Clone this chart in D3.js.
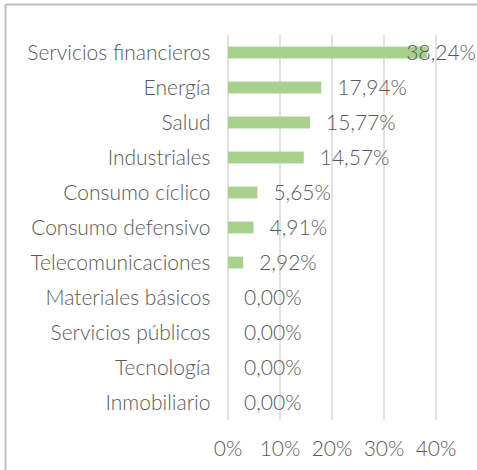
<!DOCTYPE html>
<html>
<head>
<meta charset="utf-8">
<script src="https://cdn.jsdelivr.net/npm/d3@7"></script>
<style>
html,body{margin:0;padding:0;background:#fff;overflow:hidden}
svg{display:block}
text{font-family:"Lato","Open Sans",sans-serif;font-weight:300;fill:#595959}
</style>
</head>
<body>
<svg id="chart" width="477" height="470"></svg>
<script>
// sectores y pesos (%)
let sectors=["Servicios financieros","Energía","Salud","Industriales","Consumo cíclico","Consumo defensivo","Telecomunicaciones","Materiales básicos","Servicios públicos","Tecnología","Inmobiliario"]
let weights=[38.24,17.94,15.77,14.57,5.65,4.91,2.92,0,0,0,0]
let ticks=[0,10,20,30,40]

let svg=d3.select("#chart")
let W=477,H=470
let fs=21, capOff=7.6

let x=d3.scaleLinear().domain([0,40]).range([228,436])
let y=d3.scaleBand().domain(sectors).range([35,420]).paddingInner(0.66).paddingOuter(0.33)

// marco
svg.append("line").attr("x1",5.5).attr("x2",W).attr("y1",4.5).attr("y2",4.5)
.attr("stroke","#bfbfbf").attr("stroke-width",2)
svg.append("line").attr("x1",5.5).attr("x2",5.5).attr("y1",4.5).attr("y2",H)
.attr("stroke","#bfbfbf").attr("stroke-width",2)

// rejilla
svg.append("g").selectAll("line").data(ticks).enter().append("line")
.attr("x1",d=>x(d)).attr("x2",d=>x(d))
.attr("y1",35).attr("y2",420)
.attr("stroke","#d9d9d9").attr("stroke-width",1.5)

// eje x
svg.append("g").selectAll("text").data(ticks).enter().append("text")
.attr("x",d=>x(d)).attr("y",448+capOff)
.attr("text-anchor","middle")
.attr("font-size",fs)
.text(d=>d+"%")

// etiquetas de categoría
svg.append("g").selectAll("text").data(sectors).enter().append("text")
.attr("x",210.5).attr("y",d=>y(d)+y.bandwidth()/2+capOff)
.attr("text-anchor","end")
.attr("font-size",fs)
.text(d=>d)

// barras
svg.append("g").selectAll("rect").data(sectors).enter().append("rect")
.attr("x",x(0)).attr("y",d=>y(d))
.attr("width",(d,i)=>x(weights[i])-x(0))
.attr("height",y.bandwidth())
.attr("fill","#a9d18e")

// valores
let fmt=v=>v.toFixed(2).replace(".",",")+"%"
svg.append("g").selectAll("text").data(sectors).enter().append("text")
.attr("y",d=>y(d)+y.bandwidth()/2+capOff)
.attr("font-size",fs)
.text((d,i)=>fmt(weights[i]))
.each(function(d,i){
let w=this.getComputedTextLength()
let px=x(weights[i])+16
if(px+w>W-1) px=W-1-w
d3.select(this).attr("x",px)
})
</script>
</body>
</html>
